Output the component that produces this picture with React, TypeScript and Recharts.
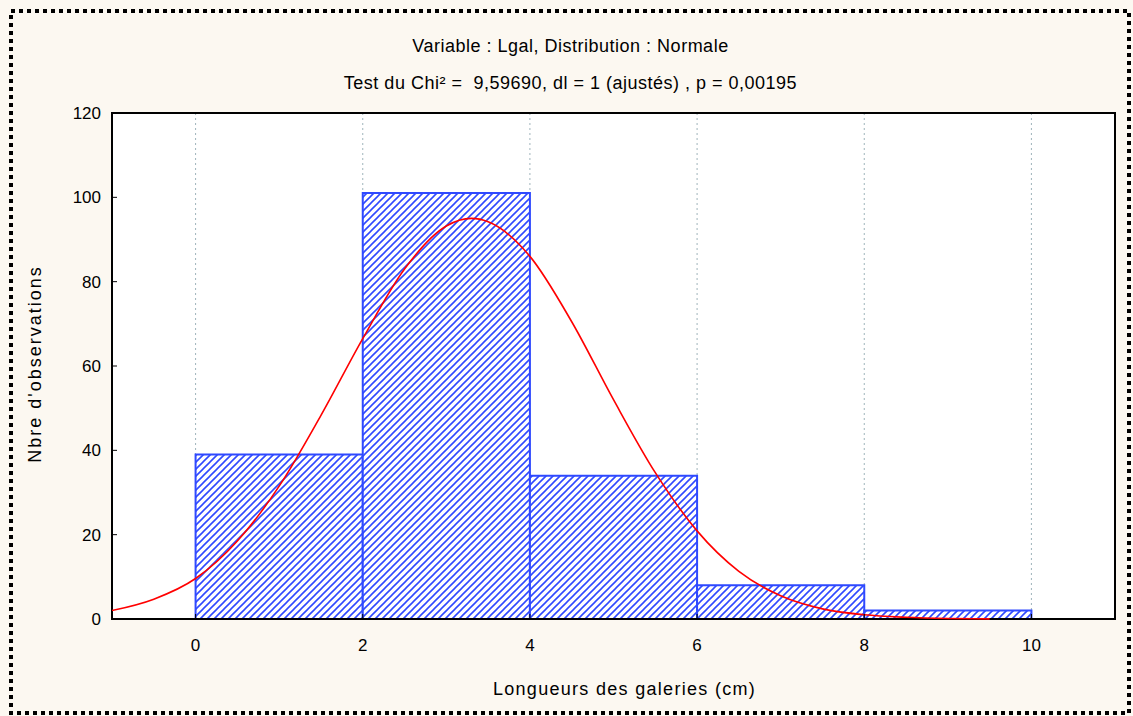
import {
  CartesianGrid,
  ComposedChart,
  Label,
  Line,
  ReferenceArea,
  XAxis,
  YAxis,
} from "recharts";

// histogram bins (longueur en cm) and counts
const binStart = [0, 2, 4, 6, 8];
const binEnd = [2, 4, 6, 8, 10];
const counts = [39, 101, 34, 8, 2];

// fitted normal curve
const curveX = [-1, -0.5, 0, 0.5, 1, 1.5, 2, 2.5, 3, 3.3, 3.5, 4, 4.5, 5, 5.5, 6, 6.5, 7, 7.5, 8, 8.5, 9, 9.5];
const curveY = [2, 4.7, 9.6, 18.5, 31.5, 48.3, 66.5, 83, 93.2, 95, 94.2, 86, 70.5, 52, 34.7, 20.9, 11.3, 5.5, 2.4, 1, 0.4, 0.12, 0.03];

const xTicks = [0, 2, 4, 6, 8, 10];
const yTicks = [0, 20, 40, 60, 80, 100, 120];

const title1 = "Variable : Lgal, Distribution : Normale";
const title2 = "Test du Chi² =  9,59690, dl = 1 (ajustés) , p = 0,00195";
const xLabel = "Longueurs des galeries (cm)";
const yLabel = "Nbre d'observations";

const FONT = '"Liberation Sans Narrow", "Arial Narrow", "Liberation Sans", sans-serif';

const data = curveX.map((x, i) => ({ x, fit: curveY[i] }));

const App = () => {
  return (
    <div
      style={{
        position: "absolute",
        left: 0,
        top: 0,
        width: 1133,
        height: 716,
        background: "#fcf8f1",
        fontFamily: FONT,
        overflow: "hidden",
      }}
    >
      <svg width={1133} height={716} style={{ position: "absolute", left: 0, top: 0 }}>
        <rect
          x={11}
          y={11}
          width={1118}
          height={702}
          fill="none"
          stroke="#000"
          strokeWidth={4}
          strokeDasharray="4 4"
        />
      </svg>
      <div
        style={{
          position: "absolute",
          top: 28,
          left: 4,
          width: 1133,
          textAlign: "center",
          fontSize: 18,
          letterSpacing: 0.5,
          lineHeight: "37px",
          color: "#000",
        }}
      >
        <div>{title1}</div>
        <div style={{ whiteSpace: "pre" }}>{title2}</div>
      </div>
      <div style={{ position: "absolute", left: 0, top: 0 }}>
        <ComposedChart
          width={1133}
          height={716}
          data={data}
          margin={{ top: 113, right: 18, bottom: 0, left: 0 }}
        >
          <defs>
            <pattern id="hatch" patternUnits="userSpaceOnUse" width={7} height={7}>
              <rect width={7} height={7} fill="#fff" />
              <path d="M0,7 L7,0 M-2,2 L2,-2 M5,9 L9,5" stroke="#2f49ff" strokeWidth={1.6} />
            </pattern>
          </defs>
          <CartesianGrid
            horizontal={false}
            stroke="#9fb4bb"
            strokeDasharray="2 3"
            fill="#fff"
          />
          <XAxis
            dataKey="x"
            type="number"
            domain={[-1, 11]}
            ticks={xTicks}
            allowDataOverflow
            height={97}
            axisLine={false}
            tickLine={{ stroke: "#000" }}
            tickSize={-5}
            tickMargin={25}
            tick={{ fill: "#000", fontSize: 17, fontFamily: FONT }}
          >
            <Label
              content={({ viewBox }: any) => (
                <text
                  x={viewBox.x + viewBox.width / 2 + 11}
                  y={viewBox.y + 76}
                  textAnchor="middle"
                  fontSize={18}
                  letterSpacing={1.3}
                  fontFamily={FONT}
                  fill="#000"
                >
                  {xLabel}
                </text>
              )}
            />
          </XAxis>
          <YAxis
            type="number"
            domain={[0, 120]}
            ticks={yTicks}
            width={112}
            axisLine={false}
            tickLine={{ stroke: "#000" }}
            tickSize={-5}
            tickMargin={16}
            tick={{ fill: "#000", fontSize: 17, fontFamily: FONT }}
          >
            <Label
              content={() => (
                <text
                  x={0}
                  y={0}
                  transform="translate(41, 364) rotate(-90)"
                  textAnchor="middle"
                  fontSize={18}
                  letterSpacing={2}
                  fontFamily={FONT}
                  fill="#000"
                >
                  {yLabel}
                </text>
              )}
            />
          </YAxis>
          {counts.map((c, i) => (
            <ReferenceArea
              key={i}
              x1={binStart[i]}
              x2={binEnd[i]}
              y1={0}
              y2={c}
              fill="url(#hatch)"
              fillOpacity={1}
              stroke="#2f49ff"
              strokeWidth={2}
              ifOverflow="visible"
            />
          ))}
          <Line
            type="monotone"
            dataKey="fit"
            stroke="#ff0000"
            strokeWidth={1.6}
            dot={false}
            activeDot={false}
            isAnimationActive={false}
          />
          <ReferenceArea
            x1={-1}
            x2={11}
            y1={0}
            y2={120}
            fill="none"
            stroke="#000"
            strokeWidth={2}
            ifOverflow="visible"
          />
        </ComposedChart>
      </div>
    </div>
  );
};

export default App;
